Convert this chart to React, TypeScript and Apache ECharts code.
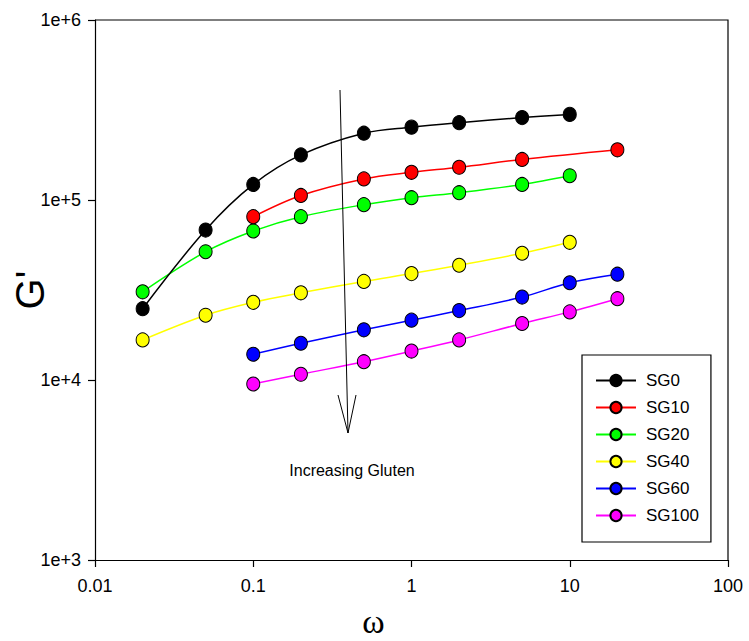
import React, { useEffect, useRef } from "react";
import * as echarts from "echarts";

const freq = [0.02, 0.05, 0.1, 0.2, 0.5, 1, 2, 5, 10, 20];

const sg0 = [24900, 68100, 122000, 178000, 235000, 254000, 269000, 287000, 299000, null];
const sg10 = [null, null, 80800, 106000, 131000, 142500, 152000, 168000, null, 190000];
const sg20 = [30900, 51600, 67300, 80800, 94200, 103000, 109800, 122000, 136400, null];
const sg40 = [16700, 22900, 27000, 30500, 35300, 39000, 43400, 50600, 58200, null];
const sg60 = [null, null, 13900, 16000, 19000, 21500, 24300, 28900, 34700, 38700];
const sg100 = [null, null, 9500, 10760, 12640, 14480, 16700, 20600, 23900, 28300];

const seriesNames = ["SG0", "SG10", "SG20", "SG40", "SG60", "SG100"];
const seriesValues = [sg0, sg10, sg20, sg40, sg60, sg100];
const seriesColors = ["#000000", "#ff0000", "#00ff00", "#ffff00", "#0000ff", "#ff00ff"];

const xTicks = [0.01, 0.1, 1, 10, 100];
const yTicks = [1e3, 1e4, 1e5, 1e6];

const FONT = "'Liberation Sans', Arial, sans-serif";

export default function App() {
  const ref = useRef<HTMLDivElement>(null);
  useEffect(() => {
    if (!ref.current) return;
    const chart = echarts.init(ref.current, undefined, { renderer: "svg" });
    const series = seriesNames.map((name, i) => ({
      name,
      type: "line",
      smooth: 0.35,
      data: freq
        .map((f, j) => [f, seriesValues[i][j]])
        .filter((p) => p[1] !== null),
      symbol: "circle",
      symbolSize: [13, 14],
      lineStyle: { color: seriesColors[i], width: 1.5 },
      itemStyle: { color: seriesColors[i], borderColor: "#000", borderWidth: 1 },
      z: 10 - i,
    }));
    chart.setOption({
      animation: false,
      backgroundColor: "#fff",
      grid: { left: 95, top: 20, right: 21, bottom: 81, show: false, containLabel: false, outerBoundsMode: "none" },
      xAxis: {
        type: "log",
        logBase: 10,
        min: 0.01,
        max: 100,
        name: "ω",
        nameLocation: "middle",
        nameGap: 44,
        nameMoveOverlap: false,
        nameTextStyle: {
          fontFamily: "'Liberation Serif', 'Times New Roman', serif",
          fontSize: 34,
          lineHeight: 34,
          color: "#000",
          padding: [0, 76, 0, 0],
        },
        axisLine: { show: true, onZero: false, lineStyle: { color: "#000", width: 1.2 } },
        axisTick: { show: true, inside: false, length: 7, lineStyle: { color: "#000", width: 1.2 } },
        minorTick: { show: false },
        splitLine: { show: false },
        axisLabel: {
          margin: 17,
          fontFamily: FONT,
          fontSize: 18,
          color: "#000",
          formatter: (v: number) => {
            const t = xTicks.find((x) => Math.abs(x - v) / x < 1e-6);
            return t === undefined ? "" : String(t);
          },
        },
      },
      yAxis: {
        type: "log",
        logBase: 10,
        min: 1000,
        max: 1e6,
        name: "G'",
        nameLocation: "middle",
        nameRotate: 90,
        nameGap: 45,
        nameMoveOverlap: false,
        nameTextStyle: { fontFamily: FONT, fontSize: 40, color: "#000" },
        axisLine: { show: true, onZero: false, lineStyle: { color: "#000", width: 1.2 } },
        axisTick: { show: true, inside: false, length: 7, lineStyle: { color: "#000", width: 1.2 } },
        minorTick: { show: false },
        splitLine: { show: false },
        axisLabel: {
          margin: 14,
          fontFamily: FONT,
          fontSize: 18,
          color: "#000",
          formatter: (v: number) => {
            const t = yTicks.find((y) => Math.abs(y - v) / y < 1e-6);
            return t === undefined ? "" : "1e+" + Math.round(Math.log10(t));
          },
        },
      },
      legend: {
        left: 582,
        top: 355,
        orient: "vertical",
        data: seriesNames,
        itemWidth: 40,
        itemHeight: 14,
        itemGap: 10,
        padding: [17, 12, 18, 13],
        borderColor: "#000",
        borderWidth: 1.2,
        backgroundColor: "#fff",
        textStyle: { fontFamily: FONT, fontSize: 17, color: "#000", padding: [0, 0, 0, 5] },
      },
      graphic: [
        {
          type: "line",
          shape: { x1: 340, y1: 90, x2: 348, y2: 433 },
          style: { stroke: "#000", lineWidth: 1 },
          z: 20,
        },
        {
          type: "polyline",
          shape: { points: [[338, 395], [348, 433], [356, 395]] },
          style: { stroke: "#000", lineWidth: 1, fill: null },
          z: 20,
        },
        {
          type: "text",
          x: 352,
          y: 470,
          style: {
            text: "Increasing Gluten",
            fontFamily: FONT,
            fontSize: 16,
            fill: "#000",
            textAlign: "center",
            textVerticalAlign: "middle",
          },
          z: 20,
        },
        {
          type: "polyline",
          shape: { points: [[95, 20], [728, 20], [728, 560]] },
          style: { stroke: "#000", lineWidth: 1.2, fill: null },
          z: 5,
        },
      ],
      series,
    });
    return () => chart.dispose();
  }, []);
  return <div ref={ref} style={{ width: 749, height: 641, position: "absolute", left: 0, top: 0 }} />;
}
